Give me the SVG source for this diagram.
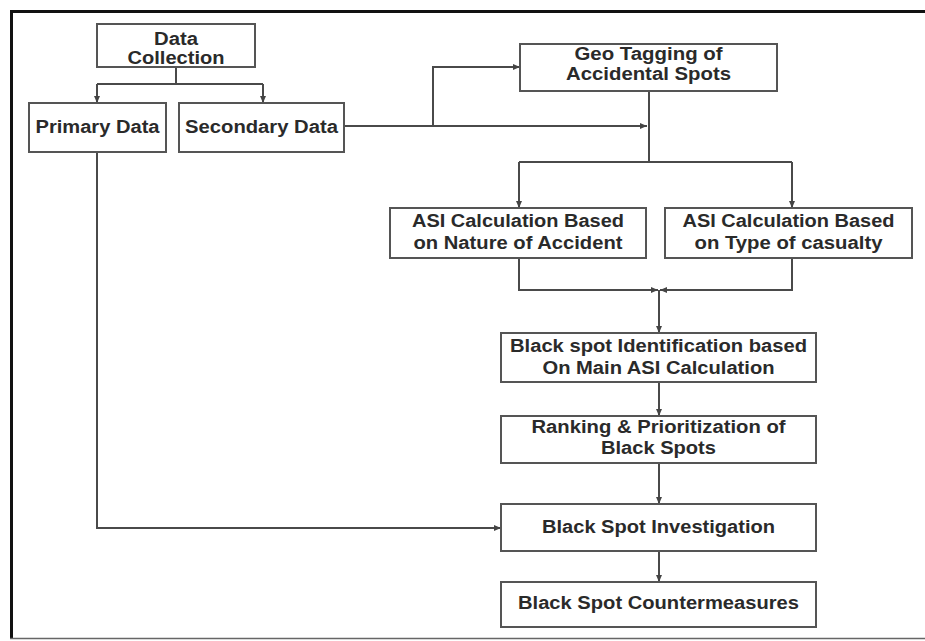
<svg xmlns="http://www.w3.org/2000/svg" width="925" height="641" viewBox="0 0 925 641">
<defs>
<marker id="arr" markerWidth="8" markerHeight="8" refX="7" refY="4" orient="auto" markerUnits="userSpaceOnUse">
<path d="M0,1 L7,4 L0,7 Z" fill="#444"/>
</marker>
<style>
.box{fill:#fff;stroke:#555;stroke-width:2}
.ln{fill:none;stroke:#4a4a4a;stroke-width:2}
.t{font-family:"Liberation Sans",Arial,sans-serif;font-weight:bold;font-size:18px;fill:#2a2a2a;text-anchor:middle}
</style>
</defs>
<rect width="925" height="641" fill="#fff"/>
<g id="frame">
<line x1="10" y1="11.5" x2="925" y2="11.5" stroke="#111" stroke-width="3"/>
<line x1="11.5" y1="10" x2="11.5" y2="639" stroke="#111" stroke-width="3"/>
<line x1="10" y1="638.5" x2="925" y2="638.5" stroke="#666" stroke-width="1.5"/>
</g>
<g id="connectors">
<path class="ln" d="M176,67 V84"/>
<path class="ln" d="M97,84 H263"/>
<path class="ln" d="M97,84 V103" marker-end="url(#arr)"/>
<path class="ln" d="M263,84 V103" marker-end="url(#arr)"/>
<path class="ln" d="M344,126 H647" marker-end="url(#arr)"/>
<path class="ln" d="M433,126 V67 H520" marker-end="url(#arr)"/>
<path class="ln" d="M649,91 V162"/>
<path class="ln" d="M519,162 H792"/>
<path class="ln" d="M519,162 V208" marker-end="url(#arr)"/>
<path class="ln" d="M792,162 V208" marker-end="url(#arr)"/>
<path class="ln" d="M519,258 V290 H658" marker-end="url(#arr)"/>
<path class="ln" d="M792,258 V290 H660" marker-end="url(#arr)"/>
<path class="ln" d="M659,290 V333" marker-end="url(#arr)"/>
<path class="ln" d="M659,382 V416" marker-end="url(#arr)"/>
<path class="ln" d="M659,463 V504" marker-end="url(#arr)"/>
<path class="ln" d="M659,551 V582" marker-end="url(#arr)"/>
<path class="ln" d="M97,152 V528 H501" marker-end="url(#arr)"/>
</g>
<g id="data-collection">
<rect class="box" x="97" y="24" width="158" height="43"/>
<text class="t" x="176" y="45" textLength="44" lengthAdjust="spacingAndGlyphs">Data</text>
<text class="t" x="176" y="64" textLength="97" lengthAdjust="spacingAndGlyphs">Collection</text>
</g>
<g id="primary-data">
<rect class="box" x="29" y="103" width="137" height="49"/>
<text class="t" x="97.5" y="133" textLength="124" lengthAdjust="spacingAndGlyphs">Primary Data</text>
</g>
<g id="secondary-data">
<rect class="box" x="179" y="103" width="165" height="49"/>
<text class="t" x="261.5" y="133" textLength="153" lengthAdjust="spacingAndGlyphs">Secondary Data</text>
</g>
<g id="geo-tagging">
<rect class="box" x="520" y="44" width="257" height="47"/>
<text class="t" x="648.5" y="60" textLength="148" lengthAdjust="spacingAndGlyphs">Geo Tagging of</text>
<text class="t" x="648.5" y="80" textLength="165" lengthAdjust="spacingAndGlyphs">Accidental Spots</text>
</g>
<g id="asi-nature">
<rect class="box" x="390" y="208" width="256" height="50"/>
<text class="t" x="518" y="227" textLength="212" lengthAdjust="spacingAndGlyphs">ASI Calculation Based</text>
<text class="t" x="518" y="249" textLength="209" lengthAdjust="spacingAndGlyphs">on Nature of Accident</text>
</g>
<g id="asi-type">
<rect class="box" x="665" y="208" width="247" height="50"/>
<text class="t" x="788.5" y="227" textLength="212" lengthAdjust="spacingAndGlyphs">ASI Calculation Based</text>
<text class="t" x="788.5" y="249" textLength="188" lengthAdjust="spacingAndGlyphs">on Type of casualty</text>
</g>
<g id="black-spot-identification">
<rect class="box" x="501" y="333" width="315" height="49"/>
<text class="t" x="658.5" y="352" textLength="297" lengthAdjust="spacingAndGlyphs">Black spot Identification based</text>
<text class="t" x="658.5" y="374" textLength="232" lengthAdjust="spacingAndGlyphs">On Main ASI Calculation</text>
</g>
<g id="ranking">
<rect class="box" x="501" y="416" width="315" height="47"/>
<text class="t" x="658.5" y="433" textLength="254" lengthAdjust="spacingAndGlyphs">Ranking &amp; Prioritization of</text>
<text class="t" x="658.5" y="454" textLength="115" lengthAdjust="spacingAndGlyphs">Black Spots</text>
</g>
<g id="investigation">
<rect class="box" x="501" y="504" width="315" height="47"/>
<text class="t" x="658.5" y="533" textLength="233" lengthAdjust="spacingAndGlyphs">Black Spot Investigation</text>
</g>
<g id="countermeasures">
<rect class="box" x="501" y="582" width="315" height="45"/>
<text class="t" x="658.5" y="609" textLength="281" lengthAdjust="spacingAndGlyphs">Black Spot Countermeasures</text>
</g>
</svg>
